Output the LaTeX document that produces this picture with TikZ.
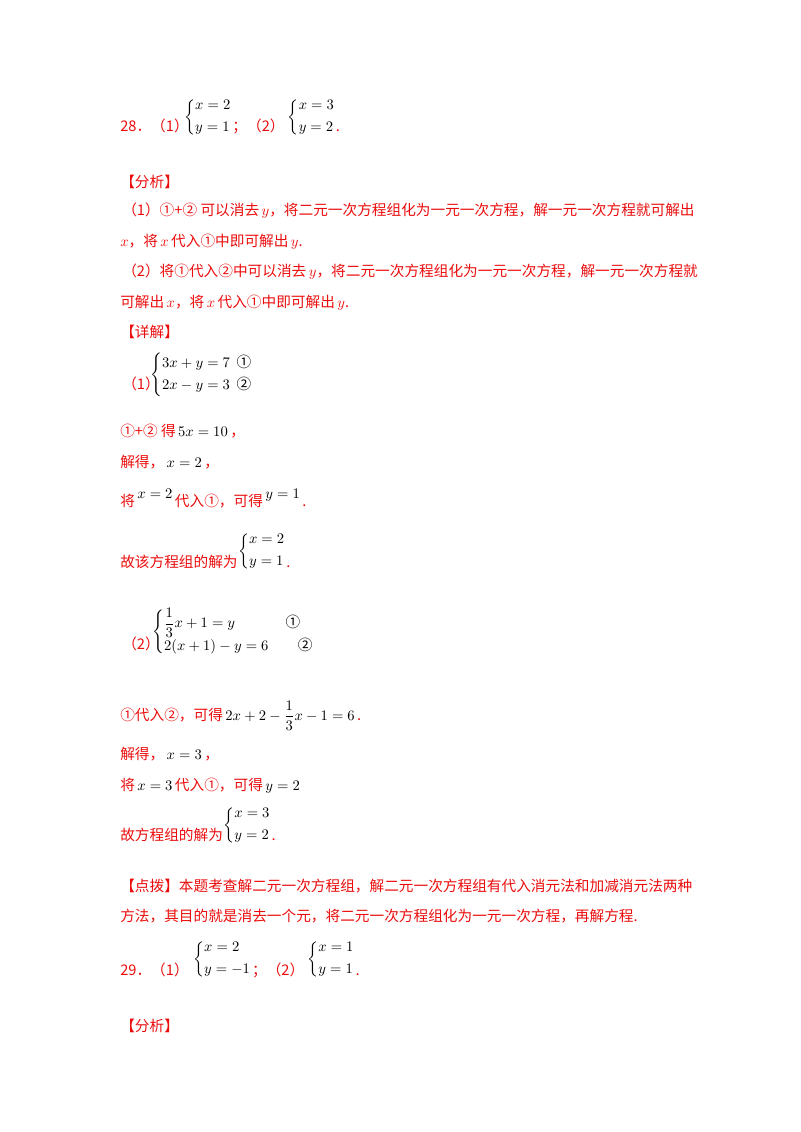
\documentclass[tikz,border=0pt]{standalone}
\usepackage{amsmath}
\usepackage{fontspec}
\newfontfamily\cjk{Noto Sans CJK SC}
\definecolor{AnsRed}{rgb}{0.92, 0.05, 0.05}
\newcommand{\sys}[2]{\ensuremath{\left\{\begin{array}{@{}l@{}}#1\\[3pt]#2\end{array}\right.}}
\newcommand{\mb}[1]{\textcolor{black}{\,$#1$\,}}

\begin{document}
\begin{tikzpicture}[x=0.75pt, y=-0.75pt,
    every node/.style={inner sep=0pt, anchor=base west, font=\cjk\fontsize{11}{13}\selectfont},
    Ans/.style={text=AnsRed},
    Math/.style={text=black, anchor=west}]

  \useasboundingbox (0,0) rectangle (800,1132);

  % question 28
  \node[Ans](q28) at (120,131) {28．（1）};
  \node[Math](s28a) at (184,117) {\sys{x=2}{y=1}};
  \node[Ans](q28b) at (s28a.east |- q28.base) {；（2）};
  \node[Math](s28b) at ([xshift=2pt]q28b.east |- s28a.west) {\sys{x=3}{y=2}};
  \node[Ans] at (s28b.east |- q28.base) {.};

  % analysis
  \node[Ans](fx) at (120,187) {【分析】};
  \node[Ans](fx1) at (122,215) {（1）①+② 可以消去\,$y$，将二元一次方程组化为一元一次方程，解一元一次方程就可解出};
  \node[Ans](fx2) at (120,246) {$x$，将\,$x$\,代入①中即可解出\,$y$.};
  \node[Ans](fx3) at (122,276) {（2）将①代入②中可以消去\,$y$，将二元一次方程组化为一元一次方程，解一元一次方程就};
  \node[Ans](fx4) at (120,307) {可解出\,$x$，将\,$x$\,代入①中即可解出\,$y$.};

  % details
  \node[Ans](xj) at (120,337) {【详解】};
  \node[Ans](p1) at (122,389) {（1）};
  \node[Math](s1) at (150,375) {\sys{3x+y=7\ \ \text{①}}{2x-y=3\ \ \text{②}}};

  \node[Ans](l1) at (120,436) {①+② 得\mb{5x=10}，};
  \node[Ans](l2) at (120,467) {解得，\mb{x=2}，};
  \node[Ans](l3) at (120,506) {将\raisebox{6pt}{\mb{x=2}}代入①，可得\raisebox{6pt}{\mb{y=1}}.};
  \node[Ans](l4) at (120,567) {故该方程组的解为};
  \node[Math](s2) at (l4.east |- 0,551) {\sys{x=2}{y=1}};
  \node[Ans] at (s2.east |- l4.base) {.};

  \node[Ans](p2) at (122,649) {（2）};
  \node[Math](s3) at (152,632)
    {\sys{\dfrac{1}{3}x+1=y\qquad\quad\ \ \text{①}}{2(x+1)-y=6\qquad\text{②}}};

  \node[Ans](l5) at (120,720) {①代入②，可得\mb{2x+2-\dfrac{1}{3}x-1=6}.};
  \node[Ans](l6) at (120,759) {解得，\mb{x=3}，};
  \node[Ans](l7) at (120,790) {将\mb{x=3}代入①，可得\mb{y=2}};
  \node[Ans](l8) at (120,840) {故方程组的解为};
  \node[Math](s4) at (l8.east |- 0,825) {\sys{x=3}{y=2}};
  \node[Ans] at (s4.east |- l8.base) {.};

  % hint
  \node[Ans](db1) at (120,891) {【点拨】本题考查解二元一次方程组，解二元一次方程组有代入消元法和加减消元法两种};
  \node[Ans](db2) at (120,921) {方法，其目的就是消去一个元，将二元一次方程组化为一元一次方程，再解方程.};

  % question 29
  \node[Ans](q29) at (120,975) {29．（1）};
  \node[Math](s29a) at (193,959) {\sys{x=2}{y=-1}};
  \node[Ans](q29b) at (s29a.east |- q29.base) {；（2）};
  \node[Math](s29b) at ([xshift=2pt]q29b.east |- s29a.west) {\sys{x=1}{y=1}};
  \node[Ans] at (s29b.east |- q29.base) {.};

  \node[Ans](fx29) at (120,1031) {【分析】};
\end{tikzpicture}
\end{document}
